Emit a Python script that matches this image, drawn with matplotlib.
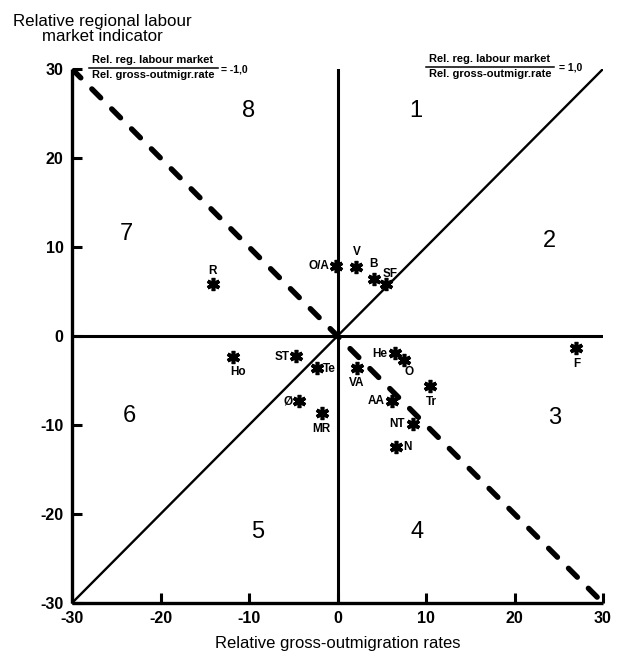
import matplotlib
matplotlib.use("Agg")
import matplotlib.pyplot as plt
from matplotlib.lines import Line2D

plt.rcParams['font.family'] = ['Liberation Sans', 'DejaVu Sans']
plt.rcParams['axes.unicode_minus'] = False

# Norwegian counties: relative gross-outmigration rate vs relative labour market indicator
counties = ["R", "O/A", "V", "B", "SF", "Ho", "ST", "Te", "Ø", "MR",
            "VA", "He", "O", "Tr", "AA", "NT", "N", "F"]
outmigration = [-14.1, -0.2, 2.1, 4.1, 5.5, -11.8, -4.7, -2.3, -4.3, -1.8,
                2.2, 6.5, 7.5, 10.4, 6.2, 8.5, 6.6, 26.9]
labour_market = [5.8, 7.9, 7.7, 6.4, 5.8, -2.4, -2.2, -3.6, -7.3, -8.6,
                 -3.6, -1.9, -2.7, -5.6, -7.3, -9.9, -12.5, -1.4]

ticks = [-30, -20, -10, 0, 10, 20, 30]
sector_numbers = ["1", "2", "3", "4", "5", "6", "7", "8"]
sector_x = [8.8, 24.0, 24.5, 9.0, -9.0, -23.5, -23.8, -10.0]
sector_y = [25.3, 10.7, -9.2, -22.0, -22.0, -9.0, 11.5, 25.3]

# label placement around each marker: (dx, dy) in pixels, horizontal alignment
label_offsets = {
    "R": (0, 13, "center"), "O/A": (-6, 0, "right"), "V": (1, 15, "center"),
    "B": (0, 15, "center"), "SF": (4, 10, "center"), "Ho": (5, -15, "center"),
    "ST": (-6, -1, "right"), "Te": (6, -1, "left"), "Ø": (-7, -1, "right"),
    "MR": (0, -16, "center"), "VA": (0, -15, "center"), "He": (-8, -1, "right"),
    "O": (5, -12, "center"), "Tr": (2, -16, "center"), "AA": (-8, 0, "right"),
    "NT": (-8, 0, "right"), "N": (7, 0, "left"), "F": (1, -16, "center"),
}

W, H = 624, 661
fig = plt.figure(figsize=(W / 100, H / 100), dpi=100)
ax = fig.add_axes([72 / W, 1 - 603 / H, (603 - 72) / W, (603 - 69) / H])
ax.set_xlim(-30, 30)
ax.set_ylim(-30, 30)

for side in ("top", "right"):
    ax.spines[side].set_visible(False)
for side in ("left", "bottom"):
    ax.spines[side].set_linewidth(2.4)
    ax.spines[side].set_capstyle("butt")

ax.set_xticks(ticks)
ax.set_yticks(ticks)
ax.set_xticklabels([str(t) for t in ticks])
ax.set_yticklabels([str(t) for t in ticks])
ax.tick_params(direction="in", length=7, width=2.2, labelsize=11.5, pad=6)
for lab in ax.get_xticklabels() + ax.get_yticklabels():
    lab.set_fontweight("bold")

# quadrant axes through the origin
ax.axhline(0, color="black", lw=2.2)
ax.axvline(0, color="black", lw=2.2)
# ratio = 1 and ratio = -1 lines
ax.axline((0, 0), slope=1, color="black", lw=1.7)
ax.axline((0, 0), slope=-1, color="black", lw=3.9,
          linestyle=(0, (2.3, 2.9)), dash_capstyle="round")

ax.plot(outmigration, labour_market, linestyle="none", marker=(6, 2, 0),
        markersize=9.5, markeredgewidth=2.6, color="black", zorder=5)

for name, x, y in zip(counties, outmigration, labour_market):
    dx, dy, ha = label_offsets[name]
    ax.annotate(name, (x, y), xytext=(dx, dy), textcoords="offset pixels",
                ha=ha, va="center", fontsize=8.5, fontweight="bold")

for s, x, y in zip(sector_numbers, sector_x, sector_y):
    ax.text(x, y, s, ha="center", va="center", fontsize=17)

ax.set_xlabel("Relative gross-outmigration rates", fontsize=12, labelpad=7)
fig.text(102 / W, 1 - 29 / H, "Relative regional labour\nmarket indicator",
         ha="center", va="center", fontsize=12.2, linespacing=0.92)


def ratio_formula(cx, x0, x1, ytop, value, vx):
    fig.text(cx / W, 1 - (ytop + 1) / H, "Rel. reg. labour market",
             ha="center", va="bottom", fontsize=8, fontweight="bold")
    fig.add_artist(Line2D([x0 / W, x1 / W], [1 - (ytop + 4) / H] * 2,
                          transform=fig.transFigure, color="black", lw=1.1))
    fig.text(cx / W, 1 - (ytop + 6) / H, "Rel. gross-outmigr.rate",
             ha="center", va="top", fontsize=8, fontweight="bold")
    fig.text(vx / W, 1 - (ytop + 5) / H, value, ha="left", va="center",
             fontsize=7.5, fontweight="bold")


ratio_formula(153, 89, 218, 64, "= -1,0", 221)
ratio_formula(490, 426, 554, 63, "= 1,0", 559)

fig.savefig("out.png", dpi=100)
